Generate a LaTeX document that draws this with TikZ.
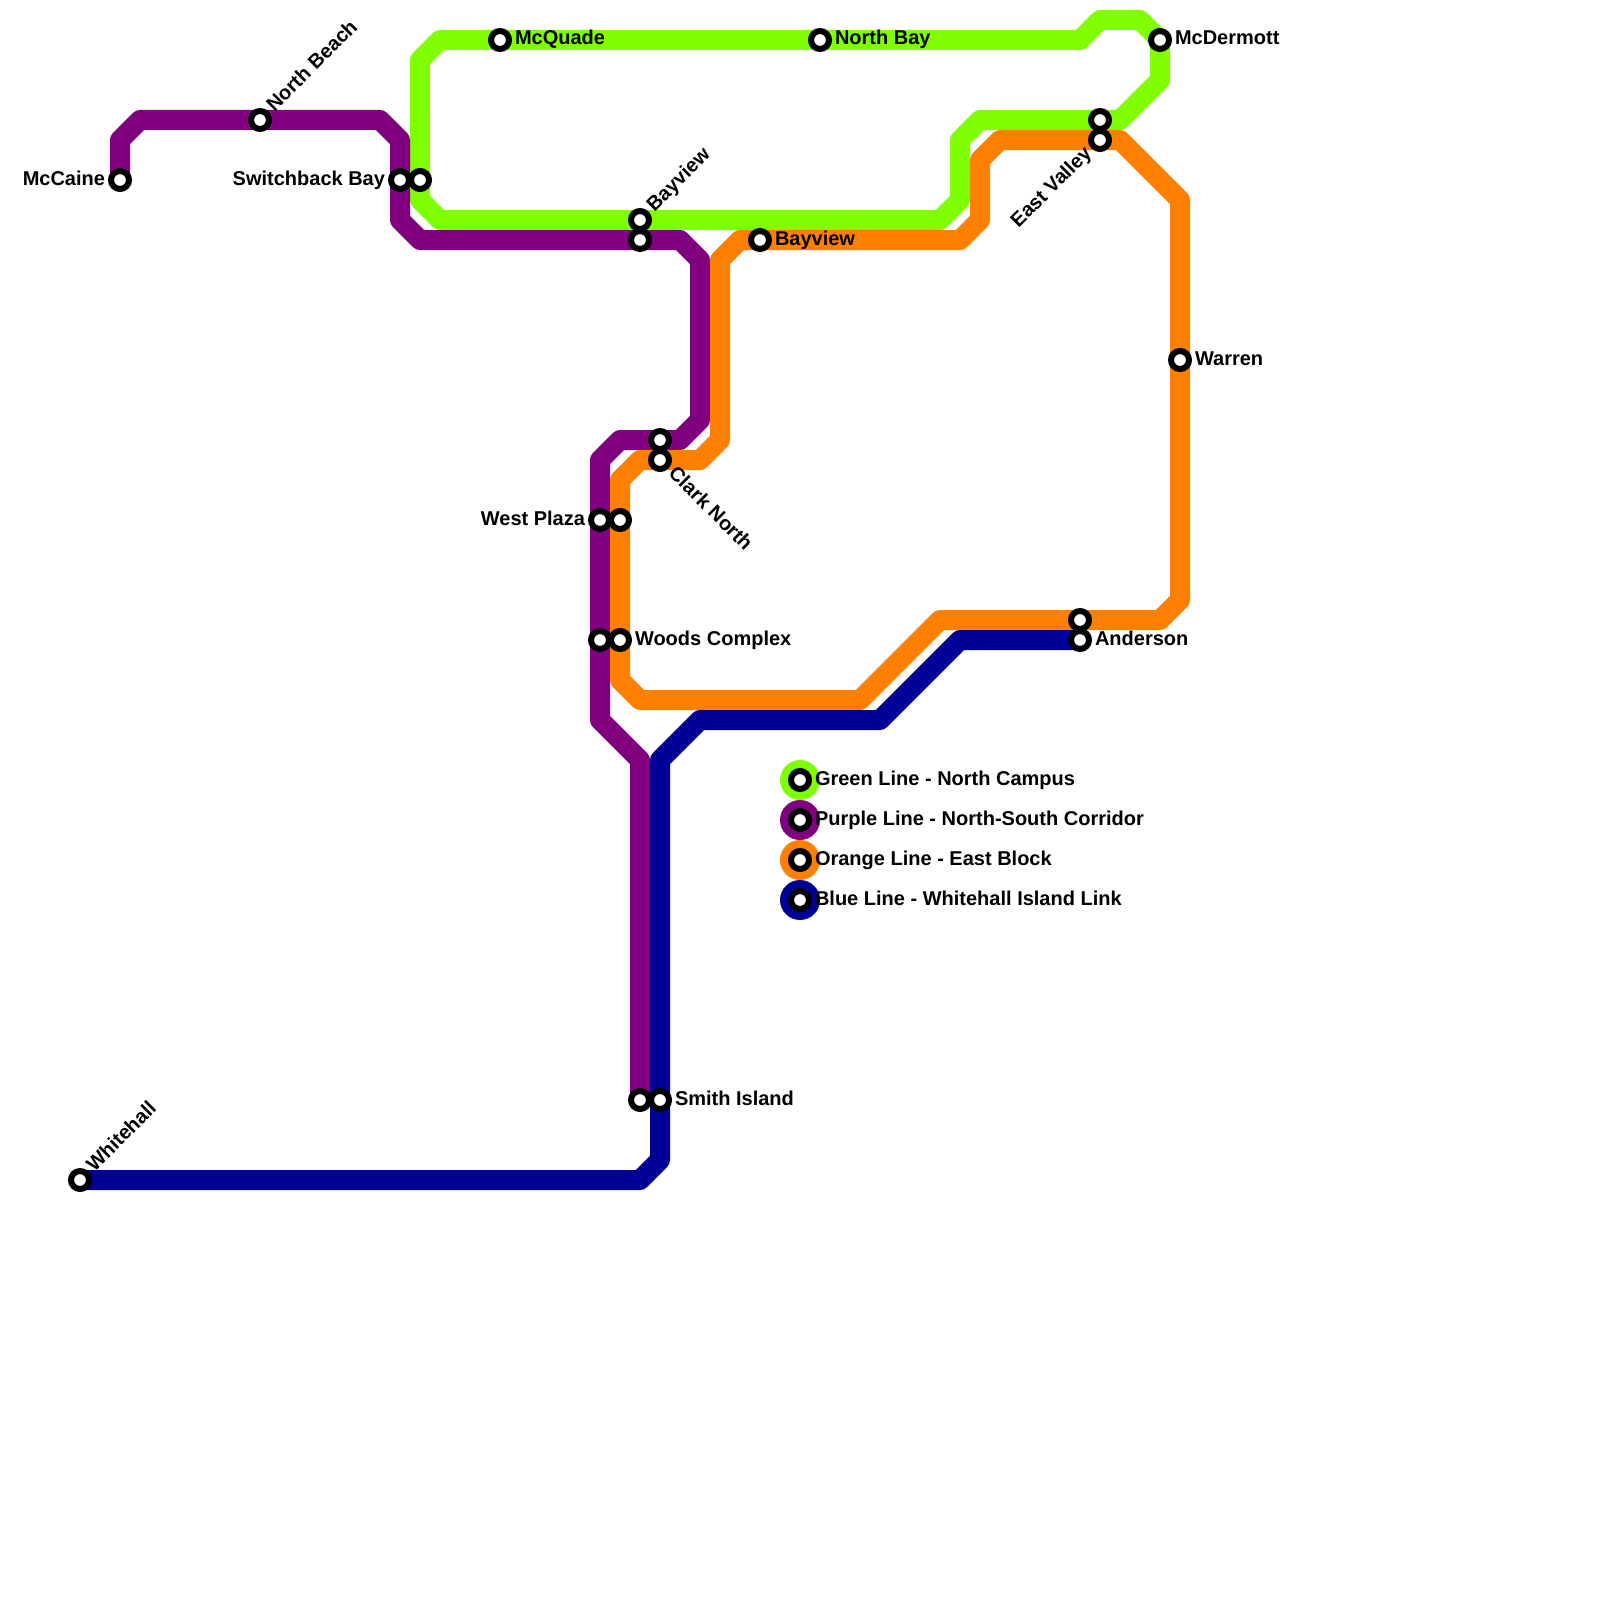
\documentclass[tikz,border=0pt]{standalone}
\usepackage{fontspec}
\setmainfont{Liberation Sans}
\usetikzlibrary{backgrounds}
\definecolor{lgreen}{HTML}{80FF00}
\definecolor{lpurple}{HTML}{800080}
\definecolor{lorange}{HTML}{FF8000}
\definecolor{lblue}{HTML}{000099}
\tikzset{
  stn/.style={circle,draw=black,fill=white,line width=6pt,inner sep=0pt,outer sep=0pt,minimum size=18pt},
  lineroute/.style={line width=20pt,line join=round,line cap=butt},
  swatch/.style={circle,inner sep=0pt,outer sep=0pt,minimum size=40pt},
  lbl/.style={inner sep=0pt,outer sep=0pt,font=\fontsize{20}{22}\selectfont\bfseries},
  lblR/.style={lbl,anchor=base west},
  lblL/.style={lbl,anchor=base east},
}
\begin{document}
\begin{tikzpicture}[x=1pt,y=-1pt]
\useasboundingbox (0,0) rectangle (1600,1600);
% stations
\node[stn] (mccaine) at (120,180) {};
\node[stn] (northbeach) at (260,120) {};
\node[stn] (switchP) at (400,180) {};
\node[stn] (switchG) at (420,180) {};
\node[stn] (mcquade) at (500,40) {};
\node[stn] (northbay) at (820,40) {};
\node[stn] (mcdermott) at (1160,40) {};
\node[stn] (eastG) at (1100,120) {};
\node[stn] (eastO) at (1100,140) {};
\node[stn] (bayG) at (640,220) {};
\node[stn] (bayP) at (640,240) {};
\node[stn] (bayO) at (760,240) {};
\node[stn] (warren) at (1180,360) {};
\node[stn] (westP) at (600,520) {};
\node[stn] (westO) at (620,520) {};
\node[stn] (woodsP) at (600,640) {};
\node[stn] (woodsO) at (620,640) {};
\node[stn] (clarkP) at (660,440) {};
\node[stn] (clarkO) at (660,460) {};
\node[stn] (andO) at (1080,620) {};
\node[stn] (andB) at (1080,640) {};
\node[stn] (smithP) at (640,1100) {};
\node[stn] (smithB) at (660,1100) {};
\node[stn] (whitehall) at (80,1180) {};
% lines
\begin{scope}[on background layer]
\draw[lineroute,lgreen] (mcquade.center) -- (northbay.center) -- (1080,40) -- (1100,20) -- (1140,20) -- (mcdermott.center) -- (1160,80) -- (1120,120) -- (eastG.center) -- (980,120) -- (960,140) -- (960,200) -- (940,220) -- (bayG.center) -- (440,220) -- (420,200) -- (switchG.center) -- (420,60) -- (440,40) -- cycle;
\draw[lineroute,lpurple] (mccaine.center) -- (120,140) -- (140,120) -- (northbeach.center) -- (380,120) -- (400,140) -- (switchP.center) -- (400,220) -- (420,240) -- (bayP.center) -- (680,240) -- (700,260) -- (700,420) -- (680,440) -- (clarkP.center) -- (620,440) -- (600,460) -- (westP.center) -- (woodsP.center) -- (600,720) -- (640,760) -- (smithP.center);
\draw[lineroute,lorange] (eastO.center) -- (1120,140) -- (1180,200) -- (warren.center) -- (1180,600) -- (1160,620) -- (andO.center) -- (940,620) -- (860,700) -- (640,700) -- (620,680) -- (woodsO.center) -- (westO.center) -- (620,480) -- (640,460) -- (clarkO.center) -- (700,460) -- (720,440) -- (720,260) -- (740,240) -- (bayO.center) -- (960,240) -- (980,220) -- (980,160) -- (1000,140) -- cycle;
\draw[lineroute,lblue] (whitehall.center) -- (640,1180) -- (660,1160) -- (smithB.center) -- (660,760) -- (700,720) -- (880,720) -- (960,640) -- (andB.center);
\end{scope}
% legend
\node[swatch,fill=lgreen] (swG) at (800,780) {};
\node[swatch,fill=lpurple] (swP) at (800,820) {};
\node[swatch,fill=lorange] (swO) at (800,860) {};
\node[swatch,fill=lblue] (swB) at (800,900) {};
\node[stn] (kG) at (800,780) {};
\node[stn] (kP) at (800,820) {};
\node[stn] (kO) at (800,860) {};
\node[stn] (kB) at (800,900) {};
\node[lblR] (tG) at (815,785) {Green Line - North Campus};
\node[lblR] (tP) at (815,825) {Purple Line - North-South Corridor};
\node[lblR] (tO) at (815,865) {Orange Line - East Block};
\node[lblR] (tB) at (815,905) {Blue Line - Whitehall Island Link};
% labels
\node[lblL] (lMcCaine) at (105,185) {McCaine};
\node[lblL] (lSwitch) at (385,185) {Switchback Bay};
\node[lblL] (lWest) at (585,525) {West Plaza};
\node[lblR] (lMcQuade) at (515,45) {McQuade};
\node[lblR] (lNorthBay) at (835,45) {North Bay};
\node[lblR] (lMcDermott) at (1175,45) {McDermott};
\node[lblR] (lBayO) at (775,245) {Bayview};
\node[lblR] (lWarren) at (1195,365) {Warren};
\node[lblR] (lWoods) at (635,645) {Woods Complex};
\node[lblR] (lAnd) at (1095,645) {Anderson};
\node[lblR] (lSmith) at (675,1105) {Smith Island};
\node[lblR,rotate=45] (lNB) at (274.5,112.5) {North Beach};
\node[lblR,rotate=45] (lBayG) at (654.5,212.5) {Bayview};
\node[lblR,rotate=45] (lWhite) at (94.5,1172.5) {Whitehall};
\node[lblL,rotate=45] (lEast) at (1092.5,154.5) {East Valley};
\node[lblR,rotate=-45] (lClark) at (667.5,474.5) {Clark North};
\end{tikzpicture}
\end{document}
